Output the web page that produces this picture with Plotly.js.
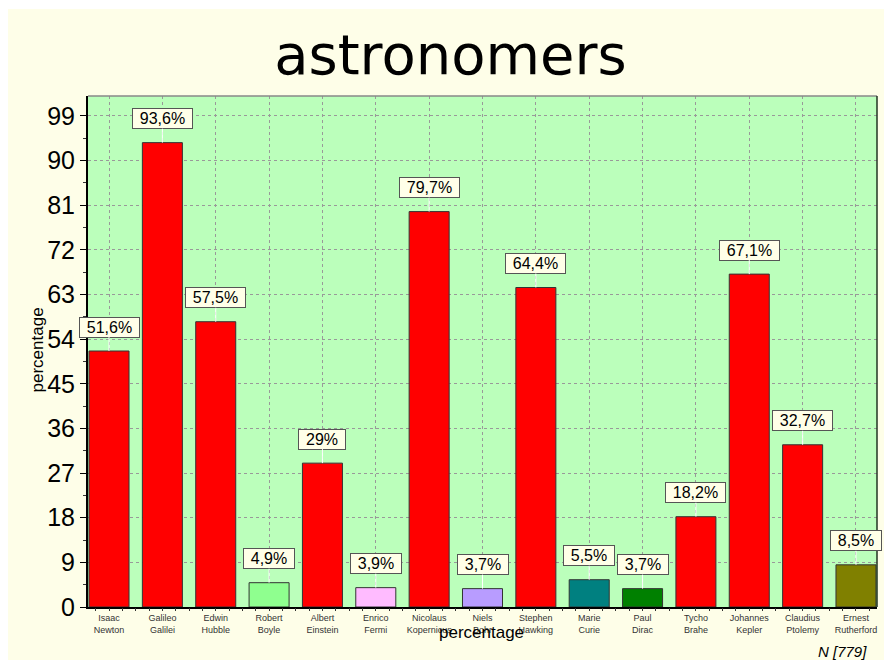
<!DOCTYPE html>
<html>
<head>
<meta charset="utf-8">
<script src="https://cdn.plot.ly/plotly-3.0.1.min.js"></script>
<style>
  html, body { margin: 0; padding: 0; background: #ffffff; }
  #chart { position: absolute; left: 8px; top: 9px; width: 876px; height: 651px; }
</style>
</head>
<body>
<div id="chart"></div>
<script>
const firstNames = ["Isaac", "Galileo", "Edwin", "Robert", "Albert", "Enrico", "Nicolaus", "Niels", "Stephen", "Marie", "Paul", "Tycho", "Johannes", "Claudius", "Ernest"];
const lastNames = ["Newton", "Galilei", "Hubble", "Boyle", "Einstein", "Fermi", "Kopernicus", "Bohr", "Hawking", "Curie", "Dirac", "Brahe", "Kepler", "Ptolemy", "Rutherford"];
const values = [51.6, 93.6, 57.5, 4.9, 29.0, 3.9, 79.7, 3.7, 64.4, 5.5, 3.7, 18.2, 67.1, 32.7, 8.5];
const barColors = ["#ff0000", "#ff0000", "#ff0000", "#8fff8f", "#ff0000", "#ffbbff", "#ff0000", "#b89cff", "#ff0000", "#008080", "#008000", "#ff0000", "#ff0000", "#ff0000", "#808000"];
const yTicks = [0, 9, 18, 27, 36, 45, 54, 63, 72, 81, 90, 99];

const categories = firstNames.map((f, i) => f + "<br>" + lastNames[i]);
const labelText = values.map(v => String(v).replace(".", ",") + "%");

// approximate text width (Liberation Sans 16px) to give the label boxes side padding
function textWidth(s) {
  let w = 0;
  for (const ch of s) w += ch === "," ? 4.45 : ch === "%" ? 14.2 : 8.9;
  return w;
}

const xRange = [-0.394, 14.394];

const trace = {
  type: "bar",
  x: categories,
  y: values,
  width: 0.75,
  marker: { color: barColors, line: { color: "#333333", width: 1 } },
  hoverinfo: "skip"
};

const tickTrace = {
  type: "scatter", mode: "markers", x: [0], y: [0], xaxis: "x2", yaxis: "y",
  marker: { opacity: 0 }, hoverinfo: "skip", showlegend: false
};

const annotations = categories.map((c, i) => ({
  x: c, y: values[i], xref: "x", yref: "y",
  text: labelText[i],
  showarrow: true, arrowhead: 0, arrowwidth: 1, arrowcolor: "#ffffff",
  ax: 0, ay: -24,
  width: Math.round(textWidth(labelText[i]) + 12), height: 17,
  bgcolor: "#ffffe8", bordercolor: "#555555", borderwidth: 1, borderpad: 1,
  font: { family: "Liberation Sans, Arial, sans-serif", size: 16, color: "#000000" }
}));

annotations.push({
  text: "percentage", xref: "paper", yref: "paper", x: 0.499, y: -0.05,
  xanchor: "center", yanchor: "middle", showarrow: false,
  font: { family: "Liberation Sans, Arial, sans-serif", size: 17, color: "#000000" }
});
annotations.push({
  text: "percentage", xref: "paper", yref: "paper", x: -0.064, y: 0.503,
  xanchor: "center", yanchor: "middle", showarrow: false, textangle: -90,
  font: { family: "Liberation Sans, Arial, sans-serif", size: 17, color: "#000000" }
});
annotations.push({
  text: "<i>N [779]</i>", xref: "paper", yref: "paper", x: 0.9895, y: -0.088,
  xanchor: "right", yanchor: "middle", showarrow: false,
  font: { family: "Liberation Sans, Arial, sans-serif", size: 15, color: "#000000" }
});

const layout = {
  width: 876, height: 651,
  margin: { l: 80, r: 7, t: 87, b: 53 },
  paper_bgcolor: "#fefee8",
  plot_bgcolor: "#bbffbb",
  showlegend: false,
  title: {
    text: "astronomers",
    font: { family: "DejaVu Sans, sans-serif", size: 56, color: "#000000" },
    x: 0.505, xanchor: "center",
    y: 1 - 45 / 651, yref: "container", yanchor: "middle"
  },
  xaxis: {
    type: "category",
    range: xRange,
    showgrid: true, gridcolor: "#999999", gridwidth: 1, griddash: "3px,3px",
    showline: true, linecolor: "#000000", linewidth: 2,
    ticks: "",
    tickfont: { family: "Liberation Sans, Arial, sans-serif", size: 9, color: "#333333" },
    ticklabelstandoff: 1,
    zeroline: false, fixedrange: true
  },
  xaxis2: {
    type: "linear", overlaying: "x", anchor: "y", side: "bottom",
    range: xRange, tick0: 0, dtick: 0.25,
    ticks: "outside", ticklen: 3, tickcolor: "#333333", tickwidth: 1,
    showticklabels: false, showgrid: false, zeroline: false, showline: false
  },
  yaxis: {
    range: [0, 103],
    tickvals: yTicks, ticktext: yTicks.map(String),
    showgrid: true, gridcolor: "#999999", gridwidth: 1, griddash: "3px,3px",
    showline: true, linecolor: "#000000", linewidth: 2,
    ticks: "outside", ticklen: 6, tickcolor: "#000000", tickwidth: 1,
    minor: { dtick: 4.5, tick0: 0, ticks: "outside", ticklen: 3, tickcolor: "#333333", showgrid: false },
    tickfont: { family: "Liberation Sans, Arial, sans-serif", size: 25, color: "#000000" },
    ticklabelstandoff: 0,
    zeroline: false, fixedrange: true
  },
  shapes: [
    { type: "line", xref: "paper", yref: "paper", x0: 0, x1: 1, y0: 1, y1: 1, line: { color: "#888888", width: 1.5 } },
    { type: "line", xref: "paper", yref: "paper", x0: 1, x1: 1, y0: 0, y1: 1, line: { color: "#223322", width: 1.5 } }
  ],
  annotations: annotations
};

Plotly.newPlot("chart", [trace, tickTrace], layout, { displayModeBar: false, staticPlot: true });
</script>
</body>
</html>
